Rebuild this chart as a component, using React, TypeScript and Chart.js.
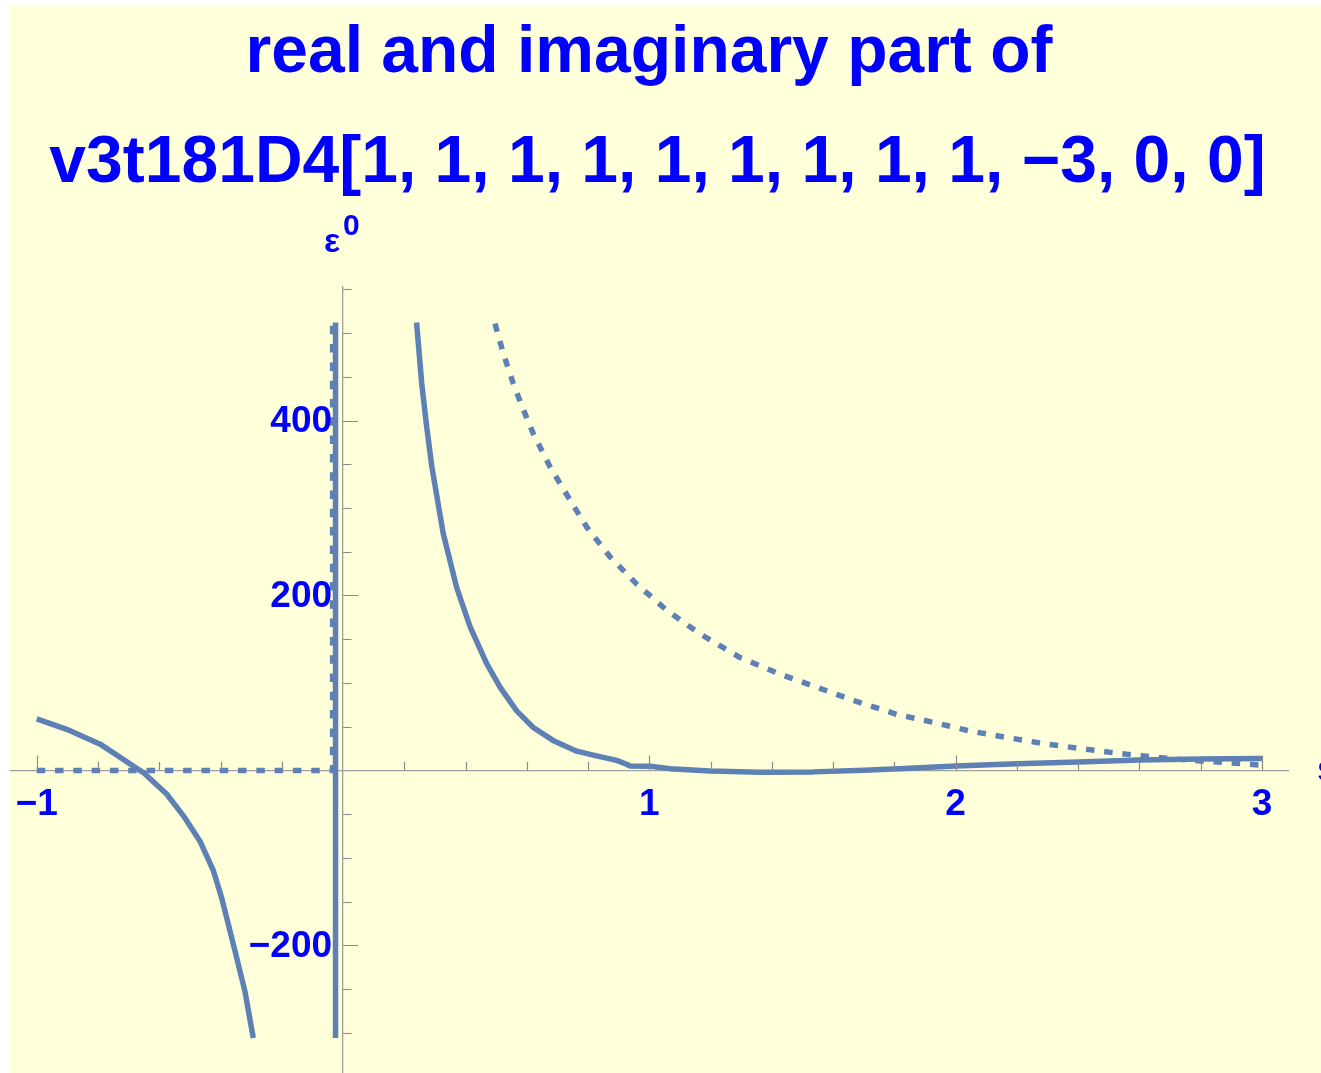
import React, { useEffect, useRef } from "react";
import { Chart, registerables } from "chart.js";

Chart.register(...registerables);

// Title and axis labels
const TITLE_LINES = [
  "real and imaginary part of",
  "v3t181D4[1, 1, 1, 1, 1, 1, 1, 1, 1, \u22123, 0, 0]",
];
const Y_AXIS_LABEL = "\u03b5";
const Y_AXIS_SUP = "0";
const X_AXIS_LABEL = "s";

// Tick positions (labelled majors, unlabelled minors)
const X_MAJOR = [-1, 1, 2, 3];
const X_MINOR = [-0.8, -0.6, -0.4, -0.2, 0.2, 0.4, 0.6, 0.8, 1.2, 1.4, 1.6, 1.8, 2.2, 2.4, 2.6, 2.8];
const Y_MAJOR = [-200, 200, 400];
const Y_MINOR = [-300, -250, -150, -100, -50, 50, 100, 150, 250, 300, 350, 450, 500, 550];

// Real part (solid), clipped to the plot range
const reLeftX = [-1, -0.902, -0.793, -0.685, -0.652, -0.576, -0.521, -0.467, -0.423, -0.396, -0.358, -0.32, -0.293];
const reLeftY = [59, 47, 30, 5, -2.5, -27, -52, -81, -115, -146, -199, -253, -306];
const reSpikeX = [-0.0245, -0.0245];
const reSpikeY = [-306, 512];
const reRightX = [0.24, 0.257, 0.273, 0.29, 0.327, 0.371, 0.415, 0.469, 0.513, 0.567, 0.621, 0.687, 0.763, 0.817, 0.893, 0.926, 0.937, 1.002, 1.068, 1.198, 1.361, 1.536, 1.7, 1.85, 2.0, 2.2, 2.4, 2.6, 2.8, 3.0];
const reRightY = [512, 442, 393, 347, 271, 209, 164, 122, 95, 68, 49, 34, 22, 17.5, 11.5, 7, 5, 4.8, 2, -0.8, -2, -1.7, 0.3, 2.5, 5, 7.5, 9.7, 12, 13, 13.5];

// Imaginary part (dashed), clipped to the plot range
const imLeftX = [-1, -0.034, -0.034];
const imLeftY = [0, 0, 512];
const imRightX = [0.496, 0.523, 0.556, 0.594, 0.621, 0.676, 0.736, 0.796, 0.872, 0.959, 1.057, 1.166, 1.296, 1.427, 1.547, 1.666, 1.808, 1.927, 2.047, 2.167, 2.286, 2.406, 2.526, 2.64, 2.76, 2.88, 3.0];
const imRightY = [511, 477, 442, 408, 385, 347, 312, 278, 244, 213, 183, 156, 129, 110, 95, 80, 64, 55, 45, 37.6, 30.7, 25, 19.7, 15.5, 11.7, 9, 6];

const LINE_COLOR = "#5E81B5";
const TEXT_BLUE = "#0000FF";
const FONT_FAMILY = "'Liberation Sans', Arial, Helvetica, sans-serif";
const TICK_FONT_SIZE = 37;

const toPoints = (xs: number[], ys: number[]) => xs.map((x, i) => ({ x, y: ys[i] }));
const fmt = (v: number) => (v < 0 ? "\u2212" + Math.abs(v) : String(v));

const solid = (label: string, xs: number[], ys: number[]) => ({
  label,
  data: toPoints(xs, ys),
  borderColor: LINE_COLOR,
  borderWidth: 5.5,
  borderCapStyle: "butt" as const,
  borderJoinStyle: "round" as const,
  pointRadius: 0,
  tension: 0,
  fill: false,
});

const dashed = (label: string, xs: number[], ys: number[]) => ({
  ...solid(label, xs, ys),
  borderDash: [8.5, 9.8],
});

const backgroundPlugin = {
  id: "pageBackground",
  beforeDraw(chart: any) {
    const { ctx, width, height } = chart;
    ctx.save();
    ctx.fillStyle = "#FFFFFF";
    ctx.fillRect(0, 0, width, height);
    ctx.fillStyle = "#FFFFD9";
    ctx.fillRect(9, 6, width - 9, height - 6);
    ctx.restore();
  },
};

// Inward-pointing tick marks drawn over the curves, plus the y tick labels
// to the left of the vertical axis
const axisDecorPlugin = {
  id: "axisDecor",
  afterDatasetsDraw(chart: any) {
    const { ctx, scales } = chart;
    const xs = scales.x;
    const ys = scales.y;
    const x0 = xs.getPixelForValue(0);
    const y0 = ys.getPixelForValue(0);
    ctx.save();
    ctx.strokeStyle = "#8A8A8A";
    ctx.lineWidth = 1.2;
    ctx.beginPath();
    for (const t of xs.ticks) {
      const px = Math.round(xs.getPixelForValue(t.value)) + 0.5;
      const len = X_MAJOR.includes(t.value) ? 15 : 8.5;
      ctx.moveTo(px, y0);
      ctx.lineTo(px, y0 - len);
    }
    for (const t of ys.ticks) {
      const py = Math.round(ys.getPixelForValue(t.value)) + 0.5;
      const len = Y_MAJOR.includes(t.value) ? 15 : 8.5;
      ctx.moveTo(x0, py);
      ctx.lineTo(x0 + len, py);
    }
    ctx.stroke();

    ctx.fillStyle = TEXT_BLUE;
    ctx.font = `bold ${TICK_FONT_SIZE}px ${FONT_FAMILY}`;
    ctx.textAlign = "right";
    ctx.textBaseline = "middle";
    for (const v of Y_MAJOR) {
      ctx.fillText(fmt(v), x0 - 11, ys.getPixelForValue(v) + 1);
    }
    ctx.restore();
  },
};

const textPlugin = {
  id: "titlesAndLabels",
  afterDraw(chart: any) {
    const { ctx } = chart;
    ctx.save();
    ctx.fillStyle = TEXT_BLUE;
    ctx.textBaseline = "alphabetic";
    ctx.textAlign = "center";
    ctx.font = `bold 66px ${FONT_FAMILY}`;
    ctx.fillText(TITLE_LINES[0], 649, 72);
    ctx.fillText(TITLE_LINES[1], 657.5, 182);

    ctx.textAlign = "left";
    ctx.font = `bold 34px ${FONT_FAMILY}`;
    ctx.fillText(Y_AXIS_LABEL, 324, 252);
    ctx.font = `bold 30px ${FONT_FAMILY}`;
    ctx.fillText(Y_AXIS_SUP, 343, 235);

    ctx.font = `bold ${TICK_FONT_SIZE}px ${FONT_FAMILY}`;
    ctx.fillText(X_AXIS_LABEL, 1317, 781);
    ctx.restore();
  },
};

export default function App() {
  const canvasRef = useRef<HTMLCanvasElement | null>(null);

  useEffect(() => {
    const canvas = canvasRef.current;
    if (!canvas) return;

    const tickFont = { family: FONT_FAMILY, size: TICK_FONT_SIZE, weight: "bold" as const };

    const chart = new Chart(canvas, {
      type: "line",
      data: {
        datasets: [
          solid("Re left", reLeftX, reLeftY),
          solid("Re pole", reSpikeX, reSpikeY),
          solid("Re right", reRightX, reRightY),
          dashed("Im left", imLeftX, imLeftY),
          dashed("Im right", imRightX, imRightY),
        ],
      },
      options: {
        responsive: false,
        animation: false,
        devicePixelRatio: 1,
        layout: { padding: { left: 11, right: 33, top: 287, bottom: 0 } },
        plugins: {
          legend: { display: false },
          tooltip: { enabled: false },
          title: { display: false },
        },
        scales: {
          x: {
            type: "linear",
            min: -1.084,
            max: 3.085,
            position: { y: 0 } as any,
            grid: { display: false, drawTicks: false },
            border: { display: true, color: "#A0A0A0", width: 1.3 },
            afterBuildTicks: (scale: any) => {
              scale.ticks = [...X_MAJOR, ...X_MINOR]
                .sort((a, b) => a - b)
                .map((v) => ({ value: v }));
            },
            ticks: {
              autoSkip: false,
              maxRotation: 0,
              padding: 12,
              color: TEXT_BLUE,
              font: tickFont,
              callback: (value: any) => (X_MAJOR.includes(Number(value)) ? fmt(Number(value)) : ""),
            },
          },
          y: {
            type: "linear",
            min: -346,
            max: 552.7,
            position: { x: 0 } as any,
            grid: { display: false, drawTicks: false },
            border: { display: true, color: "#A0A0A0", width: 1.3 },
            afterBuildTicks: (scale: any) => {
              scale.ticks = [...Y_MAJOR, ...Y_MINOR]
                .sort((a, b) => a - b)
                .map((v) => ({ value: v }));
            },
            ticks: { display: false },
          },
        },
      },
      plugins: [backgroundPlugin, axisDecorPlugin, textPlugin],
    });

    return () => chart.destroy();
  }, []);

  return (
    <div style={{ position: "absolute", left: 0, top: 0, width: 1321, height: 1073, overflow: "hidden" }}>
      <canvas ref={canvasRef} width={1321} height={1073} style={{ display: "block" }} />
    </div>
  );
}
